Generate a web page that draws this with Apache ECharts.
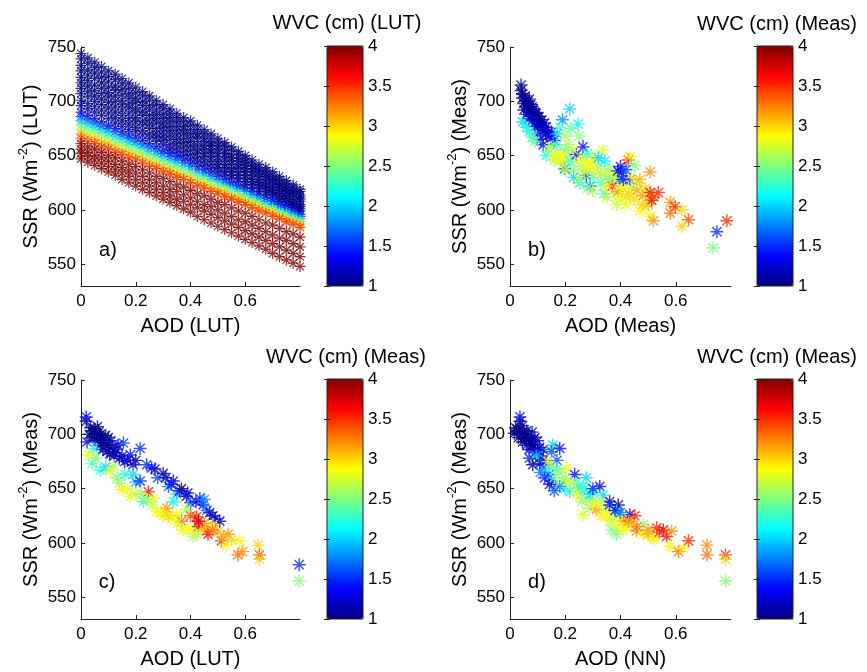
<!DOCTYPE html>
<html><head><meta charset="utf-8">
<script src="https://cdn.jsdelivr.net/npm/echarts@6/dist/echarts.min.js"></script>
<style>html,body{margin:0;padding:0;background:#fff}#c{width:867px;height:672px}</style>
</head><body><div id="c"></div>
<script>
// ---------- DATA ----------
// Panel a) LUT grid: AOD columns, WVC rows, SSR table (rows x columns)
const lutAod = [0,0.025,0.05,0.075,0.1,0.125,0.15,0.175,0.2,0.225,0.25,0.275,0.3,0.325,0.35,0.375,0.4,0.425,0.45,0.475,0.5,0.525,0.55,0.575,0.6,0.625,0.65,0.675,0.7,0.725,0.75,0.775,0.8];
const lutWvc = [0.6,0.65,0.7,0.75,0.8,0.85,0.9,0.95,1.0,1.1,1.2,1.5,1.9,2.3,2.7,3.1,3.5,4.15,4.4,4.7,5.0];
const lutSsr = [
[744,740,736,732,728,725,721,717,713,709,705,701,697,693,689,685,682,678,674,670,666,662,658,654,650,646,642,639,635,631,627,623,619],
[739,735,731,727,723,720,716,712,708,705,701,697,693,689,685,681,678,674,670,666,663,659,655,651,647,643,639,636,632,628,624,621,617],
[733,729,726,722,718,714,711,707,703,700,696,692,688,685,681,677,674,670,666,662,659,655,651,648,644,640,636,633,629,625,621,618,614],
[728,724,721,717,713,710,706,703,699,696,692,688,684,681,677,674,670,667,663,659,656,652,648,645,641,638,634,631,627,623,619,616,612],
[722,719,715,712,708,705,701,698,694,691,687,684,680,677,673,670,666,663,659,656,652,649,645,642,638,635,631,628,624,621,617,614,610],
[717,714,710,707,704,700,697,694,690,687,683,680,676,673,669,666,663,659,656,653,649,646,642,639,635,632,628,625,621,618,615,611,608],
[712,709,705,702,699,695,692,689,685,682,679,675,672,669,665,662,659,655,652,649,645,642,638,635,632,628,625,622,618,615,612,608,605],
[707,704,700,697,694,690,687,684,681,678,675,671,668,665,661,658,655,652,649,646,642,639,635,632,629,626,623,620,616,613,610,606,603],
[701,698,695,692,689,685,682,679,676,673,670,667,664,660,657,654,651,648,645,642,639,635,632,629,626,623,620,617,614,610,607,604,601],
[696,693,690,687,684,680,677,674,672,669,666,663,660,656,653,650,647,644,641,638,635,632,629,626,623,620,617,614,611,608,605,602,599],
[690,687,684,681,678,675,672,669,667,664,661,658,655,652,649,646,643,640,637,634,631,628,625,622,620,617,614,611,608,605,602,599,596],
[686,683,680,677,675,672,669,666,663,660,657,654,652,649,646,643,640,637,634,631,629,626,623,620,617,614,611,608,606,603,600,597,594],
[682,679,676,674,671,668,665,662,660,657,654,651,648,645,643,640,637,634,631,629,626,623,620,617,615,612,609,606,603,600,598,595,592],
[678,675,673,670,667,664,662,659,656,653,651,648,645,642,640,637,634,631,629,626,623,620,618,615,612,609,607,604,601,598,596,593,590],
[674,671,669,666,663,661,658,655,653,650,647,644,642,639,636,634,631,628,626,623,620,618,615,612,610,607,604,601,599,596,593,591,588],
[670,667,665,662,660,657,654,652,649,646,644,641,639,636,633,631,628,625,623,620,618,615,612,610,607,604,602,599,597,594,591,589,586],
[666,663,661,658,656,653,651,648,646,643,640,638,635,633,630,628,625,622,620,617,615,612,610,607,605,602,599,597,594,592,589,587,584],
[661,658,656,653,650,648,645,642,640,637,634,631,629,626,623,621,618,615,613,610,607,605,602,599,597,594,591,588,586,583,580,578,575],
[656,653,650,648,645,642,639,636,634,631,628,625,622,619,617,614,611,608,605,603,600,597,594,591,589,586,583,580,577,574,572,569,566],
[652,649,646,643,640,637,634,631,628,625,622,619,616,613,610,608,605,602,599,596,593,590,587,584,581,578,575,572,569,566,563,560,557],
[647,644,641,638,635,632,628,625,622,619,616,613,610,607,604,601,598,594,591,588,585,582,579,576,573,570,567,564,560,557,554,551,548]
];

// Panel b) [AOD (Meas), SSR (Meas), WVC (Meas)]
const panelB = [
[0.04,715,1.1],[0.04,710,1.0],[0.045,703,1.0],[0.05,698,1.1],[0.055,705,1.2],[0.06,695,1.0],[0.065,700,1.1],[0.07,690,1.0],[0.075,697,1.2],[0.08,688,1.1],[0.085,693,1.0],[0.09,684,1.1],[0.095,689,1.2],[0.1,680,1.0],[0.105,686,1.1],[0.11,678,1.2],[0.115,683,1.0],[0.12,674,1.3],[0.125,680,1.2],[0.13,670,1.4],[0.14,672,1.3],[0.15,666,1.5],[0.06,688,1.3],[0.05,692,1.2],[0.1,670,1.5],[0.12,660,1.4],[0.11,665,1.3],
[0.045,707,1.0],[0.055,700,1.0],[0.065,693,1.0],[0.07,702,1.1],[0.08,695,1.0],[0.09,690,1.1],[0.1,686,1.0],[0.105,679,1.1],[0.115,676,1.2],[0.13,676,1.1],[0.135,668,1.2],[0.09,677,1.3],[0.08,682,1.2],[0.07,684,1.2],[0.15,672,1.3],[0.16,664,1.4],
[0.045,681,2.0],[0.06,676,2.1],[0.07,672,2.2],[0.08,667,2.3],[0.09,663,2.4],[0.13,650,2.2],[0.14,656,2.5],[0.16,646,2.6],
[0.216,693,2.0],[0.19,683,1.8],[0.246,679,2.1],[0.22,675,2.4],[0.18,676,2.3],[0.2,668,2.6],[0.25,668,2.5],[0.17,670,2.0],
[0.15,658,2.7],[0.17,652,2.8],[0.18,645,2.9],[0.2,655,2.4],[0.21,649,2.5],[0.198,638,1.6],[0.19,642,2.7],[0.22,644,2.3],[0.23,637,2.5],[0.24,651,1.3],[0.264,658,1.4],[0.276,632,1.5],[0.29,622,1.7],[0.252,625,2.1],[0.23,630,2.0],[0.26,640,2.6],[0.27,648,2.8],[0.28,638,2.9],[0.3,645,2.7],[0.3,630,2.4],[0.31,650,2.8],[0.32,640,2.6],[0.337,655,2.8],[0.343,645,2.1],[0.33,625,2.3],[0.34,615,2.2],[0.35,632,2.8],[0.36,638,2.6],[0.37,628,2.9],[0.37,622,3.6],[0.38,615,2.7],[0.39,617,3.2],[0.385,605,2.7],[0.4,640,1.4],[0.404,634,1.3],[0.398,628,1.6],[0.41,620,2.9],[0.42,612,3.0],[0.42,605,2.8],[0.428,646,3.6],[0.434,649,2.9],[0.434,628,1.4],[0.44,620,2.6],[0.45,641,2.5],[0.45,610,3.0],[0.46,625,2.8],[0.47,628,3.1],[0.47,599,2.9],[0.48,613,3.2],[0.49,620,3.0],[0.5,605,3.1],[0.5,615,2.8],[0.507,635,3.2],[0.507,616,3.6],[0.513,609,3.7],[0.507,594,2.9],[0.519,590,3.2],[0.52,612,3.4],[0.537,616,3.5],[0.58,607,3.2],[0.598,603,3.5],[0.58,597,3.3],[0.622,600,3.0],[0.646,591,3.4],[0.622,585,3.0],[0.749,580,1.5],[0.785,590,3.5],[0.735,565,2.5],
[0.16,648,2.8],[0.2,636,2.7],[0.25,628,2.6],[0.28,620,2.5],[0.3,618,2.6],[0.35,612,2.7],[0.4,610,2.8],
[0.17,660,2.3],[0.19,650,2.9],[0.21,660,2.6],[0.23,655,2.7],[0.25,645,2.8],[0.27,635,2.7],[0.29,642,2.9],[0.31,635,2.8],[0.33,633,2.6],[0.35,622,2.9],[0.36,628,2.4],[0.38,632,2.7],[0.4,622,2.8],[0.43,615,3.0],[0.44,630,2.9],[0.46,618,3.1],[0.48,605,3.0],[0.41,628,1.5],[0.39,636,1.3],[0.42,637,1.6],[0.32,648,2.0],[0.28,652,2.2]
];

// Panel c) [AOD (LUT), SSR (Meas), WVC (Meas)]
const panelC = [
[0.019,716,1.4],[0.019,712,1.1],[0.022,693,1.3],[0.03,700,1.0],[0.04,703,1.1],[0.045,697,1.0],[0.05,705,1.2],[0.055,700,1.0],[0.06,694,1.1],[0.065,702,1.0],[0.07,690,1.2],[0.075,697,1.0],[0.08,686,1.1],[0.085,692,1.0],[0.09,699,1.3],[0.095,684,1.2],[0.1,690,1.0],[0.105,682,1.1],[0.11,694,1.4],[0.12,680,1.2],[0.13,686,1.5],[0.14,678,1.3],[0.155,692,1.6],[0.16,675,1.2],[0.18,681,1.4],[0.2,676,1.1],[0.216,687,1.5],
[0.035,706,1.0],[0.05,698,1.1],[0.06,707,1.0],[0.07,700,1.0],[0.08,695,1.0],[0.09,690,1.1],[0.1,697,1.0],[0.115,688,1.0],[0.125,683,1.1],[0.135,690,1.2],[0.15,680,1.2],[0.17,676,1.3],[0.19,672,1.2],
[0.046,687,2.1],[0.028,681,2.8],[0.04,673,2.3],[0.055,678,2.5],[0.07,667,2.2],[0.09,670,2.0],[0.107,666,2.8],[0.12,671,2.6],[0.13,660,2.5],[0.149,649,2.9],[0.16,663,2.2],[0.18,643,2.8],[0.19,663,2.0],[0.2,656,1.9],[0.216,657,1.5],
[0.258,669,1.4],[0.3,664,1.1],[0.337,657,1.3],[0.367,650,1.0],[0.385,643,1.1],[0.434,641,1.5],[0.446,635,1.4],[0.482,625,1.2],[0.507,620,1.1],[0.28,660,1.6],[0.32,652,1.7],[0.35,645,1.9],[0.4,637,1.6],[0.46,630,1.7],
[0.24,672,1.5],[0.27,668,1.3],[0.31,660,1.2],[0.33,654,1.4],[0.36,648,1.2],[0.39,646,1.3],[0.42,638,1.4],[0.45,640,1.8],[0.47,628,1.2],[0.49,622,1.3],
[0.228,638,2.2],[0.246,647,3.6],[0.264,641,2.9],[0.276,629,2.8],[0.313,632,3.2],[0.337,638,2.1],[0.349,626,2.9],[0.367,620,3.3],[0.385,631,2.6],[0.404,614,2.8],[0.422,624,3.6],[0.428,615,3.7],[0.41,606,2.6],[0.458,611,3.3],[0.464,608,3.6],[0.482,617,2.9],[0.513,602,3.5],[0.537,608,3.2],[0.53,598,2.9],[0.58,602,2.9],[0.573,589,3.3],[0.59,592,3.2],[0.646,598,3.0],[0.652,589,3.4],[0.652,585,3.0],[0.797,580,1.5],[0.797,565,2.5],
[0.2,645,2.7],[0.24,640,2.5],[0.3,625,2.7],[0.33,622,2.9],[0.37,612,2.8],[0.44,612,3.0],[0.5,610,3.1],
[0.14,655,2.6],[0.17,650,2.8],[0.22,645,2.6],[0.26,635,2.7],[0.29,628,2.9],[0.32,625,3.0],[0.35,618,2.8],[0.39,612,2.9],[0.42,608,2.7],[0.45,618,3.2],[0.48,612,3.3],[0.52,606,3.1],[0.55,603,3.0],[0.4,625,3.4],[0.43,620,3.8]
];

// Panel d) [AOD (NN), SSR (Meas), WVC (Meas)]
const panelD = [
[0.036,716,1.4],[0.036,712,1.1],[0.016,701,1.0],[0.025,705,1.1],[0.03,697,1.0],[0.04,700,1.2],[0.045,693,1.0],[0.05,703,1.1],[0.055,696,1.0],[0.06,690,1.2],[0.065,699,1.1],[0.07,686,1.3],[0.075,694,1.0],[0.08,702,1.2],[0.085,690,1.1],[0.09,683,1.4],[0.1,694,1.3],[0.107,688,1.2],[0.12,686,1.5],[0.155,690,2.0],[0.18,687,1.4],[0.15,684,1.6],
[0.02,706,1.0],[0.03,703,1.0],[0.045,708,1.1],[0.05,697,1.0],[0.06,703,1.0],[0.07,695,1.1],[0.08,690,1.0],[0.09,697,1.1],[0.1,686,1.2],[0.11,680,1.3],[0.12,676,1.2],[0.13,672,1.4],[0.14,663,1.4],[0.15,657,1.5],[0.17,676,1.6],
[0.095,680,2.0],[0.107,673,1.4],[0.137,675,2.8],[0.07,678,1.5],[0.082,672,1.1],[0.131,666,2.1],[0.143,654,1.3],[0.125,660,1.5],[0.11,665,1.7],[0.16,660,2.4],[0.17,668,2.2],[0.204,669,2.8],[0.19,657,2.7],[0.216,647,2.1],[0.234,663,1.4],[0.252,651,2.1],[0.276,660,2.0],[0.24,655,2.3],[0.2,650,2.2],[0.18,652,1.8],[0.16,648,1.6],
[0.264,626,2.8],[0.288,632,2.5],[0.313,631,3.2],[0.325,652,1.3],[0.337,644,2.0],[0.361,638,1.2],[0.392,635,1.1],[0.385,629,2.1],[0.361,620,2.8],[0.367,612,2.5],[0.385,608,2.5],[0.41,620,3.6],[0.434,626,1.3],[0.452,625,3.5],[0.422,615,2.8],[0.458,611,3.2],[0.482,617,2.5],[0.482,608,2.9],[0.519,605,2.9],[0.531,614,3.5],[0.555,612,3.7],[0.567,606,3.6],[0.585,611,3.2],[0.58,597,2.9],[0.61,592,3.3],[0.646,602,3.5],[0.628,595,2.9],[0.713,598,3.2],[0.713,589,3.3],[0.78,589,3.5],[0.78,585,3.0],[0.78,565,2.5],
[0.28,640,2.6],[0.3,635,2.8],[0.33,625,2.9],[0.35,630,2.7],[0.4,622,2.9],[0.44,618,3.0],[0.5,612,3.2],[0.3,646,2.2],[0.26,645,2.4],
[0.15,670,2.5],[0.18,665,2.6],[0.2,660,2.5],[0.22,655,2.7],[0.24,645,2.8],[0.26,638,2.6],[0.27,650,2.2],[0.29,645,2.0],[0.31,640,2.6],[0.33,636,2.8],[0.35,625,2.9],[0.37,620,2.7],[0.39,615,2.8],[0.41,612,2.9],[0.43,620,3.2],[0.46,615,3.3],[0.5,608,3.1],[0.52,603,2.9],[0.54,610,3.5],[0.36,635,1.5],[0.38,630,1.3],[0.4,628,1.7],[0.3,650,1.5]
];

const xTicks = [0, 0.2, 0.4, 0.6];
const yTicks = [550, 600, 650, 700, 750];
const xNames = ['AOD (LUT)', 'AOD (Meas)', 'AOD (LUT)', 'AOD (NN)'];
const ySuffix = ['(LUT)', '(Meas)', '(Meas)', '(Meas)'];
const cbTitles = ['WVC (cm) (LUT)', 'WVC (cm) (Meas)', 'WVC (cm) (Meas)', 'WVC (cm) (Meas)'];
const panelTags = ['a)', 'b)', 'c)', 'd)'];

// ---------- BUILD ----------
const lutData = [];
lutWvc.forEach((w, r) => {
  lutAod.forEach((a, c) => { lutData.push([a, lutSsr[r][c], w]); });
});
const datasets = [lutData, panelB, panelC, panelD];

const jet = ['#00007f','#0000ff','#007fff','#00ffff','#7fff7f','#ffff00','#ff7f00','#ff0000','#7f0000'];
const star = 'path://M0 44.5L100 44.5L100 55.5L0 55.5Z M44.5 0L55.5 0L55.5 100L44.5 100Z M18.53 10.75L89.25 81.47L81.47 89.25L10.75 18.53Z M89.25 18.53L18.53 89.25L10.75 81.47L81.47 10.75Z';

const layout = [
  {left: 81, top: 47, width: 219, cbLeft: 327, tx: 347, ty: 23, lx: 108, ly: 250},
  {left: 510, top: 47, width: 221, cbLeft: 757, tx: 777, ty: 24, lx: 537, ly: 250},
  {left: 81, top: 380, width: 219, cbLeft: 327, tx: 346, ty: 357, lx: 107, ly: 582},
  {left: 510, top: 380, width: 221, cbLeft: 757, tx: 777, ty: 357, lx: 537, ly: 582}
];
const H = 239;
const FONT = 'Liberation Sans, Arial, Helvetica, sans-serif';
const axisCol = '#222';

const option = {
  animation: false,
  backgroundColor: '#fff',
  textStyle: {fontFamily: FONT},
  grid: [], xAxis: [], yAxis: [], series: [], visualMap: [], graphic: []
};

layout.forEach((L, i) => {
  option.grid.push({left: L.left, top: L.top, width: L.width, height: H, containLabel: false});
  option.xAxis.push({
    type: 'value', gridIndex: i, min: 0, max: 0.8,
    axisLine: {show: true, onZero: false, lineStyle: {color: axisCol, width: 1}},
    axisTick: {show: true, inside: true, length: 4, customValues: xTicks, lineStyle: {color: axisCol}},
    axisLabel: {customValues: xTicks, fontSize: 17, color: '#000', margin: 7, fontFamily: FONT},
    splitLine: {show: false},
    name: xNames[i], nameLocation: 'middle', nameGap: 30,
    nameTextStyle: {fontSize: 20, color: '#000', fontFamily: FONT}
  });
  option.yAxis.push({
    type: 'value', gridIndex: i, min: 530, max: 750,
    axisLine: {show: true, onZero: false, lineStyle: {color: axisCol, width: 1}},
    axisTick: {show: true, inside: true, length: 4, customValues: yTicks, lineStyle: {color: axisCol}},
    axisLabel: {customValues: yTicks, fontSize: 17, color: '#000', margin: 5, fontFamily: FONT},
    splitLine: {show: false},
    name: '{n|SSR (Wm}{sup|-2}{n|) ' + ySuffix[i] + '}', nameLocation: 'middle', nameGap: 40,
    nameTextStyle: {fontSize: 20, color: '#000', fontFamily: FONT,
      rich: {
        n: {fontSize: 20, color: '#000', fontFamily: FONT, verticalAlign: 'bottom'},
        sup: {fontSize: 13, color: '#000', fontFamily: FONT, verticalAlign: 'bottom', padding: [0, 0, 11, 0]}
      }}
  });
  option.series.push({
    type: 'scatter', xAxisIndex: i, yAxisIndex: i,
    symbol: star, symbolSize: i === 0 ? 11 : 13,
    data: datasets[i], silent: true, animation: false
  });
  option.visualMap.push({
    type: 'continuous', min: 1, max: 4, dimension: 2, seriesIndex: i,
    calculable: false, hoverLink: false, padding: 0,
    left: L.cbLeft, top: L.top - 1, itemWidth: 36, itemHeight: H + 1,
    inRange: {color: jet}, text: null
  });
  option.graphic.push({
    type: 'text', x: L.tx, y: L.ty, silent: true,
    style: {text: cbTitles[i], font: '20px ' + FONT, fill: '#000', align: 'center', verticalAlign: 'middle'}
  });
  option.graphic.push({
    type: 'text', x: L.lx, y: L.ly, silent: true,
    style: {text: panelTags[i], font: '20px ' + FONT, fill: '#000', align: 'center', verticalAlign: 'middle'}
  });
});

// colorbar frames and tick axes (ticks on both edges)
layout.forEach((L, i) => {
  const g = 4 + i;
  option.grid.push({left: L.cbLeft, top: L.top - 1, width: 36, height: H + 1, show: true,
    borderColor: axisCol, borderWidth: 1, backgroundColor: 'transparent', z: 5});
  option.xAxis.push({type: 'value', gridIndex: g, min: 0, max: 1, show: false});
  option.yAxis.push({
    type: 'value', gridIndex: g, position: 'right', min: 1, max: 4, interval: 0.5,
    axisLine: {show: false},
    axisTick: {show: true, inside: true, length: 3, lineStyle: {color: axisCol}},
    axisLabel: {fontSize: 17, color: '#000', margin: 5, fontFamily: FONT},
    splitLine: {show: false}, z: 6
  });
  option.yAxis.push({
    type: 'value', gridIndex: g, position: 'left', min: 1, max: 4, interval: 0.5,
    axisLine: {show: false},
    axisTick: {show: true, inside: true, length: 3, lineStyle: {color: axisCol}},
    axisLabel: {show: false},
    splitLine: {show: false}, z: 6
  });
});

const chart = echarts.init(document.getElementById('c'), null, {renderer: 'canvas'});
chart.setOption(option);
</script>
</body></html>
